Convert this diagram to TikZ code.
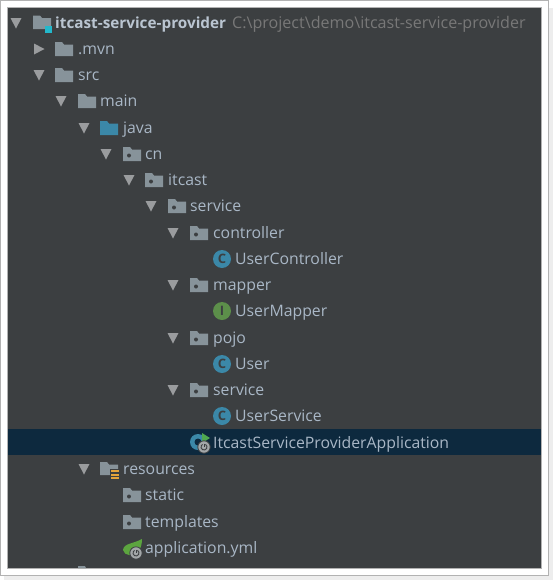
\documentclass[tikz,border=0pt]{standalone}
\usepackage{fontspec}
\setmainfont{Open Sans}
\definecolor{panelbg}{HTML}{3C3F41}
\definecolor{selbg}{HTML}{0D293E}
\definecolor{treetxt}{HTML}{A9B7C6}
\definecolor{dimtxt}{HTML}{787878}
\definecolor{foldergrey}{HTML}{87939A}
\definecolor{javablue}{HTML}{3B88A8}
\definecolor{arrowgrey}{HTML}{9A9C9E}
\definecolor{ifacegreen}{HTML}{5C8F4A}
\definecolor{springgreen}{HTML}{5CA53F}
\definecolor{runIcon}{HTML}{4FA84F}
\definecolor{stripe}{HTML}{E5A33A}
\definecolor{badge}{HTML}{A3A7A9}
\tikzset{
  rowtext/.style={anchor=base west,inner sep=0pt,text=treetxt,font=\fontsize{15.8}{16}\selectfont},
  roottext/.style={rowtext,text=treetxt!80!white,font=\fontsize{15.3}{16}\selectfont\bfseries},
  pathtext/.style={rowtext,text=dimtxt,font=\fontsize{16.1}{16}\selectfont},
  iconletter/.style={inner sep=0pt,font=\fontsize{13}{13}\selectfont\bfseries,text=panelbg},
}
% x,y of the row centre
\newcommand{\opened}[2]{\fill[arrowgrey] (#1-5.5,#2-5) -- (#1+5.5,#2-5) -- (#1,#2+5.5) -- cycle;}
\newcommand{\closed}[2]{\fill[arrowgrey] (#1-5,#2-5.5) -- (#1+5.5,#2) -- (#1-5,#2+5.5) -- cycle;}
% x is the left edge of the folder
\newcommand{\folder}[3][foldergrey]{\fill[#1] (#2,#3-7) -- (#2+7,#3-7) -- (#2+9,#3-4.5) -- (#2+18,#3-4.5) -- (#2+18,#3+7) -- (#2,#3+7) -- cycle;}
\newcommand{\pkgfolder}[2]{\folder{#1}{#2}\fill[panelbg] (#1+6,#2+1.5) circle (2pt);}
\newcommand{\springbadge}[2]{\fill[badge,draw=panelbg,line width=.8pt] (#1,#2) circle (6.2pt);
  \draw[panelbg,line width=.9pt] (#1,#2-3.2) -- (#1,#2+.3);
  \draw[panelbg,line width=.9pt] (#1+1.5,#2-2.6) arc (-60:240:3);}
\begin{document}
\begin{tikzpicture}[x=1pt,y=-1pt]
	\useasboundingbox (0,0) rectangle (554,581);

	% frame and shadow
	\fill[white] (0,0) rectangle (554,581);
	\fill[black!7] (4,8) rectangle (553,580);
	\fill[white] (.5,.5) rectangle (548.5,575.5);
	\draw[black!30] (.5,.5) rectangle (548.5,575.5);
	\fill[panelbg] (8,8) rectangle (541,568);
	\draw[black!30] (7.5,7.5) rectangle (541.5,568.5);
	\fill[selbg] (8,429) rectangle (541,455);

	% root
	\opened{16}{23}
	\fill[foldergrey] (33,15.5) -- (40,15.5) -- (42,18) -- (51,18) -- (51,29) -- (33,29) -- cycle;
	\fill[javablue!60!cyan] (44.5,25.5) rectangle (52,33);
	\node (root) at (55,28.5) [roottext] {itcast-service-provider};
	\node (rootpath) at (232,28.5) [pathtext] {C:\textbackslash project\textbackslash demo\textbackslash itcast-service-provider};

	% .mvn, src, main, java
	\closed{39}{49}
	\folder{55}{49}
	\node (mvn) at (78,54.5) [rowtext] {.mvn};
	\opened{39}{75}
	\folder{55}{75}
	\node (src) at (78,80.5) [rowtext] {src};
	\opened{61}{101}
	\folder{78}{101}
	\node (main) at (100,106.5) [rowtext] {main};
	\opened{84}{128}
	\folder[javablue]{100}{128}
	\node (java) at (123,133.5) [rowtext] {java};

	% packages
	\opened{106}{154}
	\pkgfolder{123}{154}
	\node (cn) at (145,159.5) [rowtext] {cn};
	\opened{129}{180}
	\pkgfolder{145}{180}
	\node (itcast) at (168,185.5) [rowtext] {itcast};
	\opened{151}{206}
	\pkgfolder{168}{206}
	\node (service) at (190,211.5) [rowtext] {service};
	\opened{173}{233}
	\pkgfolder{190}{233}
	\node (controller) at (213,238.5) [rowtext] {controller};
	\opened{173}{285}
	\pkgfolder{190}{285}
	\node (mapper) at (213,290.5) [rowtext] {mapper};
	\opened{173}{338}
	\pkgfolder{190}{338}
	\node (pojo) at (213,343.5) [rowtext] {pojo};
	\opened{173}{390}
	\pkgfolder{190}{390}
	\node (subservice) at (213,395.5) [rowtext] {service};

	% classes
	\fill[javablue] (222,259) circle (9pt);
	\node (ctrlicon) at (222,259) [iconletter] {C};
	\node (userctrl) at (235,264.5) [rowtext] {UserController};
	\fill[ifacegreen] (222,311) circle (9pt);
	\node (mapicon) at (222,311) [iconletter] {I};
	\node (usermap) at (235,316.5) [rowtext] {UserMapper};
	\fill[javablue] (222,364) circle (9pt);
	\node (usericon) at (222,364) [iconletter] {C};
	\node (user) at (235,369.5) [rowtext] {User};
	\fill[javablue] (222,416) circle (9pt);
	\node (svcicon) at (222,416) [iconletter] {C};
	\node (usersvc) at (235,421.5) [rowtext] {UserService};

	% application class
	\fill[javablue] (198,442) circle (8pt);
	\fill[selbg] (198,442) circle (3.5pt);
	\fill[runIcon] (202,433) -- (210,438) -- (202,443) -- cycle;
	\springbadge{204}{447}
	\node (appclass) at (213,448.5) [rowtext] {ItcastServiceProviderApplication};

	% resources
	\opened{84}{469}
	\fill[foldergrey] (100,462) -- (107,462) -- (109,464.5) -- (118,464.5) -- (118,475) -- (100,475) -- cycle;
	\fill[panelbg] (110,469) rectangle (120,480);
	\foreach \yy in {470,473.5,477}
	  \fill[stripe] (111,\yy) rectangle (119,\yy+2);
	\node (resources) at (123,474.5) [rowtext] {resources};
	\pkgfolder{123}{495}
	\node (static) at (145,500.5) [rowtext] {static};
	\pkgfolder{123}{522}
	\node (templates) at (145,527.5) [rowtext] {templates};

	% application.yml
	\fill[springgreen] (123,550) .. controls (124,543) and (133,544) .. (142,539) .. controls (142,548) and (138,556) .. (129,555) .. controls (126,555) and (124,553) .. (123,550) -- cycle;
	\springbadge{136}{553}
	\node (appyml) at (145,553.5) [rowtext] {application.yml};

	% next row cut off by the panel
	\fill[foldergrey] (78,566) -- (85,566) -- (86,568) -- (78,568) -- cycle;
\end{tikzpicture}
\end{document}
